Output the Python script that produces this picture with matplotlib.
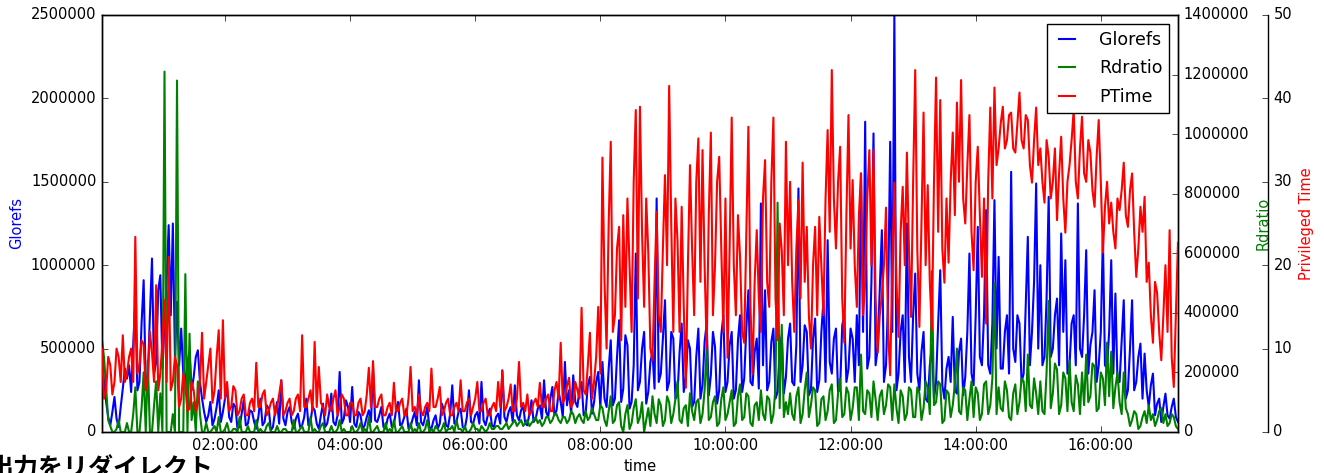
import numpy as np
import pandas as pd
import matplotlib
matplotlib.use('Agg')
import matplotlib.pyplot as plt
import matplotlib.dates as mdates
from matplotlib.ticker import MultipleLocator

# values, one sample every 2 minutes starting 00:02
# Glorefs in thousands, one row per hour
glorefs_k = [
    480, 300, 180, 90, 40, 120, 210, 80, 30, 150, 260, 380, 320, 400, 240, 520, 780, 250, 300, 650, 910, 280, 330, 700, 1040, 350, 420, 850, 940, 380,
    650, 900, 1240, 700, 1250, 450, 780, 400, 620, 350, 300, 420, 480, 250, 330, 450, 490, 300, 200, 120, 60, 100, 180, 40, 80, 150, 250, 60, 120, 200,
    270, 90, 60, 170, 150, 20, 30, 110, 190, 40, 50, 130, 120, 60, 20, 90, 200, 40, 60, 160, 140, 10, 30, 120, 180, 50, 310, 80, 40, 120,
    150, 60, 20, 80, 110, 30, 40, 90, 200, 40, 60, 150, 130, 50, 20, 100, 170, 30, 50, 120, 230, 60, 40, 100, 360, 50, 80, 190, 150, 60,
    270, 50, 30, 120, 100, 20, 40, 90, 130, 60, 380, 70, 60, 100, 150, 30, 20, 80, 110, 30, 40, 130, 180, 40, 50, 90, 140, 20, 30, 80,
    120, 40, 310, 60, 40, 90, 150, 30, 20, 70, 100, 20, 50, 170, 130, 40, 30, 110, 280, 50, 60, 120, 140, 30, 20, 90, 250, 60, 50, 100,
    120, 50, 300, 70, 40, 100, 140, 40, 30, 90, 110, 50, 370, 90, 60, 120, 150, 60, 280, 100, 70, 130, 160, 50, 40, 110, 190, 60, 80, 140,
    160, 80, 310, 120, 90, 200, 270, 100, 130, 240, 180, 90, 420, 160, 250, 110, 340, 180, 150, 260, 300, 100, 120, 280, 330, 110, 180, 300, 360, 150,
    420, 200, 150, 380, 550, 160, 200, 450, 670, 180, 260, 580, 520, 140, 180, 400, 1070, 250, 300, 500, 600, 170, 240, 420, 480, 260, 1400, 300, 350, 560,
    790, 250, 300, 600, 560, 200, 220, 480, 650, 240, 330, 550, 500, 150, 180, 450, 620, 200, 280, 540, 650, 220, 340, 600, 510, 170, 250, 580, 700, 240,
    300, 520, 600, 200, 250, 550, 700, 240, 320, 620, 850, 300, 280, 480, 560, 260, 1370, 400, 850, 250, 300, 540, 620, 200, 240, 500, 580, 230, 330, 560,
    650, 300, 280, 520, 1460, 300, 400, 640, 600, 220, 250, 560, 680, 240, 310, 600, 790, 300, 1150, 420, 350, 560, 620, 240, 260, 640, 700, 300, 380, 620,
    560, 300, 700, 400, 1550, 600, 1860, 380, 450, 900, 1790, 400, 500, 850, 1210, 300, 400, 800, 1740, 600, 2500, 250, 350, 600, 700, 300, 1250, 450, 300, 700,
    950, 350, 250, 480, 600, 200, 180, 400, 520, 200, 300, 650, 970, 280, 200, 380, 450, 300, 690, 250, 230, 480, 560, 220, 330, 600, 1070, 350, 280, 700,
    1230, 450, 400, 700, 1330, 400, 350, 650, 1390, 500, 1050, 380, 380, 600, 700, 350, 1560, 500, 420, 700, 650, 300, 350, 750, 1170, 400, 600, 900, 1490, 500,
    1000, 400, 450, 800, 1410, 450, 500, 700, 800, 400, 1190, 600, 1030, 350, 400, 650, 700, 400, 1370, 500, 450, 700, 1090, 350, 520, 600, 850, 300, 400, 600,
    1170, 400, 380, 600, 1030, 350, 830, 300, 300, 550, 790, 200, 250, 500, 790, 250, 300, 450, 530, 200, 470, 250, 150, 280, 350, 100, 170, 200, 60, 150,
    230, 100, 80, 150, 200, 90, 60,
]

# Rdratio in thousands
rdratio_k = [
    310, 250, 150, 40, 20, 0, 0, 10, 40, 0, 0, 0, 30, 0, 0, 60, 150, 0, 0, 80, 200, 0, 240, 0, 0, 90, 170, 0, 130, 0,
    1210, 0, 0, 0, 60, 0, 1180, 0, 0, 0, 530, 0, 330, 40, 100, 0, 170, 60, 0, 0, 30, 0, 0, 10, 20, 0, 50, 0, 0, 10,
    30, 0, 0, 10, 10, 0, 50, 0, 0, 0, 20, 0, 0, 0, 40, 0, 10, 0, 0, 20, 30, 0, 0, 0, 20, 0, 0, 10, 10, 0,
    0, 0, 40, 0, 0, 10, 20, 0, 0, 0, 50, 0, 10, 0, 0, 20, 30, 0, 0, 0, 20, 0, 0, 10, 40, 0, 10, 0, 0, 0,
    20, 0, 0, 10, 30, 0, 10, 0, 50, 0, 0, 10, 20, 0, 0, 0, 30, 0, 10, 0, 40, 0, 0, 10, 20, 0, 0, 0, 30, 0,
    10, 0, 30, 0, 0, 10, 40, 0, 10, 0, 20, 10, 0, 10, 30, 0, 10, 10, 20, 0, 40, 10, 10, 0, 20, 0, 0, 10, 30, 10,
    10, 0, 20, 10, 0, 10, 30, 10, 10, 20, 20, 10, 10, 20, 30, 10, 20, 30, 40, 20, 30, 40, 20, 30, 40, 20, 30, 40, 50, 30,
    40, 20, 30, 50, 50, 30, 40, 60, 60, 40, 30, 50, 50, 30, 40, 70, 60, 30, 50, 60, 40, 30, 70, 40, 50, 80, 60, 40, 40, 90,
    80, 40, 20, 70, 120, 30, 40, 90, 100, 20, 0, 60, 90, 10, 30, 80, 110, 30, 50, 100, 0, 40, 80, 20, 120, 60, 30, 110, 90, 20,
    40, 120, 100, 30, 60, 110, 170, 40, 30, 80, 90, 20, 130, 70, 40, 100, 110, 30, 60, 140, 280, 40, 50, 100, 120, 20, 30, 110, 150, 40,
    60, 100, 140, 20, 30, 120, 160, 40, 50, 130, 120, 30, 20, 90, 100, 40, 140, 60, 40, 120, 110, 30, 60, 150, 770, 80, 360, 50, 100, 60,
    130, 60, 40, 120, 150, 30, 60, 140, 200, 50, 90, 150, 140, 20, 30, 110, 120, 40, 70, 140, 160, 30, 40, 130, 180, 50, 60, 150, 130, 40,
    80, 150, 150, 40, 260, 70, 60, 140, 130, 50, 170, 110, 40, 120, 140, 60, 90, 160, 150, 40, 160, 80, 30, 140, 120, 40, 60, 150, 140, 50,
    50, 150, 130, 40, 80, 170, 150, 60, 540, 90, 100, 170, 160, 30, 40, 140, 130, 50, 90, 160, 280, 70, 60, 150, 140, 40, 110, 170, 50, 150,
    130, 40, 60, 160, 170, 60, 90, 180, 500, 60, 150, 80, 70, 170, 140, 50, 40, 130, 160, 60, 100, 180, 170, 70, 260, 90, 80, 180, 130, 60,
    170, 70, 60, 200, 440, 80, 130, 230, 210, 60, 90, 200, 180, 70, 240, 100, 70, 190, 160, 60, 200, 90, 260, 100, 120, 230, 220, 70, 80, 200,
    180, 90, 300, 120, 270, 80, 150, 200, 100, 60, 200, 80, 60, 20, 40, 70, 60, 10, 20, 50, 70, 30, 90, 40, 60, 20, 40, 70, 80, 30,
    60, 20, 30, 60, 50, 20, 10,
]

# Privileged Time
ptime = [
    10, 4, 5, 9, 8, 4.5, 6, 10, 9, 6, 11.6, 6, 7, 9, 10, 6, 23.4, 7, 8, 11, 10.5, 5, 6.5, 12, 9.5, 6, 17.6, 5, 7, 11,
    15.8, 6, 21, 5, 6, 9, 8, 3, 4, 7, 5.5, 2.5, 2.8, 6, 5, 2.5, 3.5, 6, 11.9, 4, 6, 8, 10, 3.5, 5, 9, 12.2, 4, 13.4, 4,
    6, 2.5, 3, 5.5, 5, 2, 2.5, 4, 4.5, 2, 2, 3.5, 4, 2.5, 8.3, 3, 3, 4.5, 5, 2, 2.5, 3.5, 4, 2, 3, 4.5, 6.2, 2, 2.5, 3.5,
    4, 2, 2.5, 4, 4.5, 2.5, 11.6, 3, 3, 4, 5, 2.5, 10.8, 3, 7.8, 3.5, 3, 2, 4.5, 3, 2.5, 4, 5, 2, 3, 4.5, 4, 2, 2, 3.5,
    3.5, 2, 2, 3.5, 4, 2, 2.5, 4.5, 7.7, 3, 8.5, 3, 3, 4, 4.5, 2, 2, 3, 3.5, 2, 5.9, 2.5, 2.5, 3.5, 4, 2, 2, 4, 7.8, 2.5,
    3, 2, 4.5, 2.5, 2, 3, 3.5, 2.5, 7.6, 3, 3, 4, 5.4, 2, 2.5, 3.5, 4, 2, 2, 3, 3.5, 2.5, 6.2, 2.5, 2.5, 3.5, 4, 2, 3, 4,
    6, 2.5, 2.5, 3.5, 4, 2, 2, 3, 3.5, 2.5, 6, 3, 7.3, 2.5, 3, 4, 5.7, 2.5, 2.5, 4, 8.4, 3, 3.5, 2.5, 4.5, 2, 2.5, 3.5, 4, 3,
    5.9, 3, 3, 4, 4.5, 2.5, 2.5, 5, 6, 4, 10.7, 3.5, 4, 5.5, 6.5, 3, 3.5, 6, 5, 4, 14.9, 5, 4.5, 8, 11.9, 4, 6, 9, 15, 7,
    32.9, 18, 10, 25, 34.8, 12, 14, 22, 24.6, 11, 26, 15, 28, 20, 12, 30, 38.6, 16, 39, 24, 15, 28, 21.5, 10, 8.6, 18, 26.4, 14, 12, 22,
    30.8, 20, 41.5, 25, 12, 28, 23, 12, 27, 15, 5.3, 20, 32, 22, 14, 30, 35.2, 18, 33.8, 20, 10, 26, 35.9, 14, 20, 30, 33, 22, 12, 28,
    8.9, 22, 37.7, 20, 14, 26, 21, 12, 10.7, 24, 36.6, 15, 7, 18, 24.2, 16, 12, 28, 32.6, 18, 15, 30, 37.7, 16, 11, 25, 21.8, 14, 34.8, 20,
    30, 18, 12, 22, 27.8, 16, 32.3, 18, 24.6, 14, 10, 20, 24.6, 14, 25.8, 20, 14, 28, 36.2, 24, 43.4, 28, 22, 30, 34.2, 16, 10.7, 26, 38, 22,
    30.2, 20, 15, 26, 31, 14, 18, 28, 33.8, 20, 33.8, 16, 9.5, 14, 16.4, 20, 26.9, 12, 6.8, 20, 29.9, 18, 11.4, 24, 29.4, 20, 33.5, 22, 13.8, 30,
    43.4, 22, 12.6, 25, 38.3, 20, 29.6, 18, 12.2, 30, 42.5, 24, 39.8, 22, 17.9, 28, 20.3, 30, 35.9, 26, 39.5, 30, 42.2, 28, 25, 32, 38, 24, 19.4, 30,
    34.2, 26, 18.6, 28, 13, 30, 38.9, 28, 41.3, 32, 34, 37, 39, 34, 35, 38, 38.3, 34, 33.5, 37, 40.7, 35, 34, 38, 37.4, 32, 29.9, 35, 38.9, 32,
    34, 30, 27.5, 35, 33, 28, 30, 34, 25.4, 31, 35.4, 28, 23.9, 30, 32, 35, 38.6, 30, 28, 34, 37.8, 31, 30, 35, 33.5, 29, 27, 33, 37.4, 30,
    21.5, 27, 30, 25, 27.5, 24, 22, 28, 26.6, 29, 32.3, 26, 24.6, 29, 31, 24, 18.6, 22, 27, 24, 28.2, 18, 20.3, 14, 10.7, 18, 16.7, 12, 8.6, 14,
    20, 12, 24.2, 9, 5.4, 14, 22.7,
]

glorefs = np.array(glorefs_k) * 1000
rdratio = np.array(rdratio_k) * 1000
ptime = np.array(ptime)
times = pd.date_range('2016-01-01 00:02', periods=len(ptime), freq='2min')

plt.style.use('classic')
plt.rcParams['font.family'] = ['DejaVu Sans']
plt.rcParams['font.size'] = 10.5

fig = plt.figure(figsize=(13.24, 4.73), dpi=100, facecolor='white')
ax1 = fig.add_axes([0.077, 0.0867, 0.8127, 0.8816])
ax2 = ax1.twinx()
ax3 = ax1.twinx()

# third axis pushed out to the right, only its spine shown
ax3.spines['right'].set_position(('axes', 1.0836))
ax3.set_frame_on(True)
ax3.patch.set_visible(False)
for sp in ax3.spines.values():
    sp.set_visible(False)
ax3.spines['right'].set_visible(True)

lw = 1.5
l1, = ax1.plot(times, glorefs, color='b', lw=lw)
l2, = ax2.plot(times, rdratio, color='g', lw=lw)
l3, = ax3.plot(times, ptime, color='r', lw=lw)

ax1.set_xlim(times[0], times[-1])
ax1.set_ylim(0, 2500000)
ax2.set_ylim(0, 1400000)
ax3.set_ylim(0, 50)
ax1.yaxis.set_major_locator(MultipleLocator(500000))
ax2.yaxis.set_major_locator(MultipleLocator(200000))
ax3.yaxis.set_major_locator(MultipleLocator(10))
for ax in (ax1, ax2):
    ax.ticklabel_format(axis='y', style='plain', useOffset=False)

ax1.xaxis.set_major_locator(mdates.HourLocator(byhour=range(0, 24, 2)))
ax1.xaxis.set_major_formatter(mdates.DateFormatter('%H:%M:%S'))

ax1.set_xlabel('time')
ax1.set_ylabel('Glorefs', color='b')
ax2.set_ylabel('Rdratio', color='g')
ax3.set_ylabel('Privileged Time', color='r')

ax3.legend([l1, l2, l3], ['Glorefs', 'Rdratio', 'PTime'], loc='upper right',
           fontsize=12.5, handlelength=1.5, handletextpad=1.1,
           labelspacing=0.62, borderaxespad=0.5, fancybox=False)

# overlaid caption, cut off at the bottom edge of the screenshot
fig.text(-0.009, -0.0085, '出力をリダイレクト', fontsize=18, fontweight='bold',
         family=['Noto Sans CJK JP', 'DejaVu Sans'], va='baseline')

fig.savefig('out.png', dpi=100, facecolor='white')
